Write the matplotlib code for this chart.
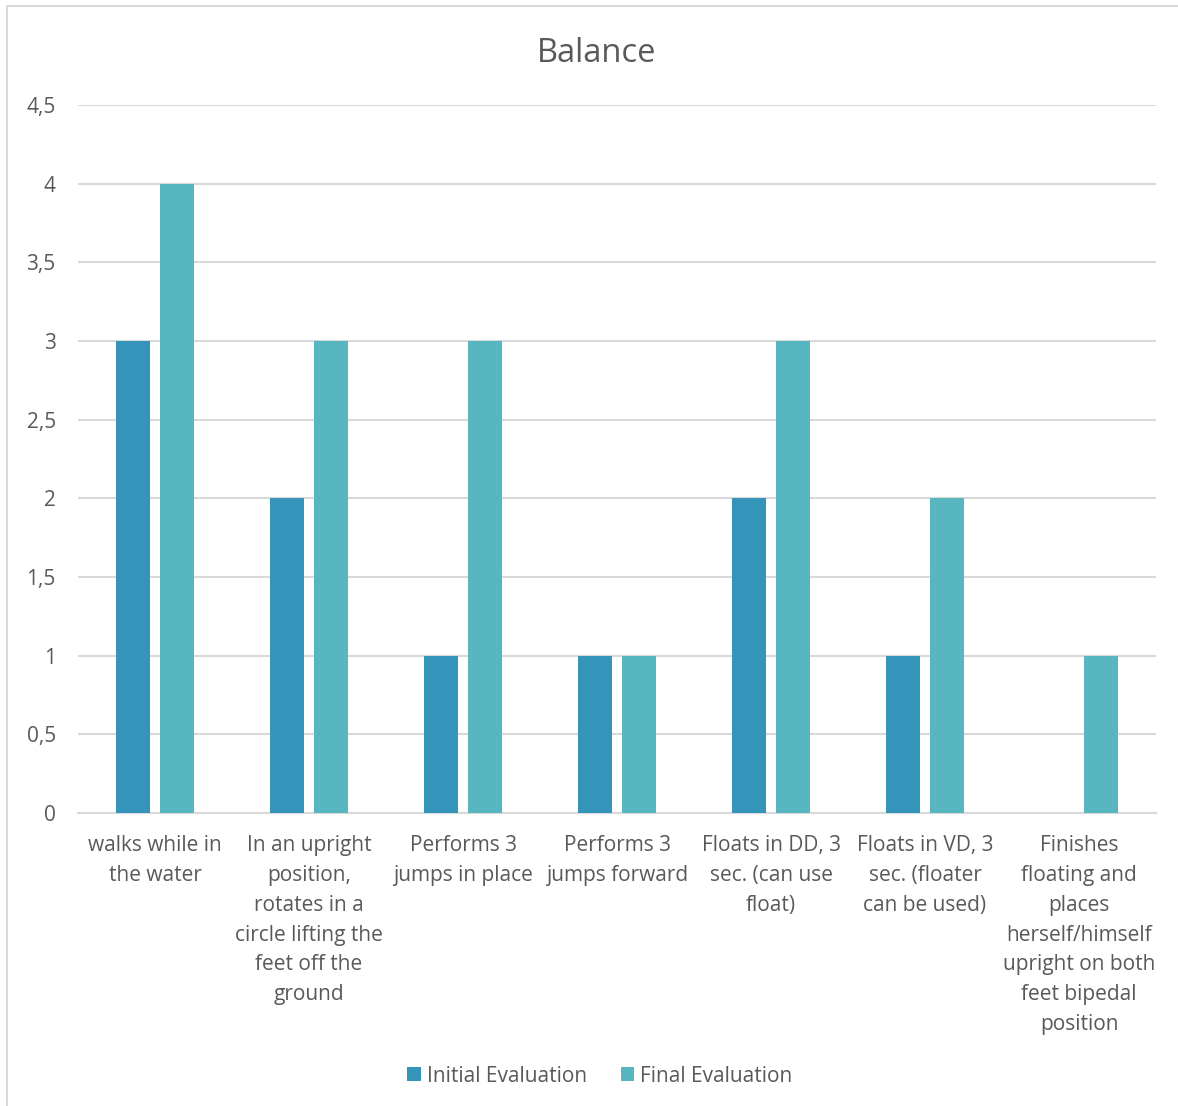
import matplotlib
matplotlib.use("Agg")
import matplotlib.pyplot as plt
import numpy as np
from matplotlib.patches import Rectangle

categories = [
    "walks while in\nthe water",
    "In an upright\nposition,\nrotates in a\ncircle lifting the\nfeet off the\nground",
    "Performs 3\njumps in place",
    "Performs 3\njumps forward",
    "Floats in DD, 3\nsec. (can use\nfloat)",
    "Floats in VD, 3\nsec. (floater\ncan be used)",
    "Finishes\nfloating and\nplaces\nherself/himself\nupright on both\nfeet bipedal\nposition",
]
initial_eval = [3, 2, 1, 1, 2, 1, 0]
final_eval = [4, 3, 3, 1, 3, 2, 1]
yticks = [0, 0.5, 1, 1.5, 2, 2.5, 3, 3.5, 4, 4.5]
ytick_labels = ["0", "0,5", "1", "1,5", "2", "2,5", "3", "3,5", "4", "4,5"]

text_color = "#595959"
grid_color = "#D9D9D9"
c_initial = "#3494BA"
c_final = "#58B6C0"

plt.rcParams["font.family"] = ["Open Sans", "DejaVu Sans"]

W, H = 1178, 1106
fig = plt.figure(figsize=(W / 100, H / 100), dpi=100)
ax = fig.add_axes([78 / W, 1 - 813 / H, (1156 - 78) / W, (813 - 105) / H])

x = np.arange(len(categories))
bw = 0.22
off = 0.143
ax.bar(x - off, initial_eval, width=bw, color=c_initial, label="Initial Evaluation", zorder=3)
ax.bar(x + off, final_eval, width=bw, color=c_final, label="Final Evaluation", zorder=3)

ax.set_xlim(-0.5, len(categories) - 0.5)
ax.set_ylim(0, 4.5)
ax.set_yticks(yticks)
ax.set_yticklabels(ytick_labels)
ax.set_xticks(x)
ax.set_xticklabels(categories, linespacing=1.55)
ax.tick_params(axis="both", length=0, colors=text_color, labelsize=15)
ax.tick_params(axis="x", pad=16)
ax.tick_params(axis="y", pad=16)
ax.grid(axis="y", color=grid_color, linewidth=1.5, zorder=0)
for s in ["top", "right", "left"]:
    ax.spines[s].set_visible(False)
ax.spines["bottom"].set_color(grid_color)
ax.spines["bottom"].set_linewidth(1.5)

fig.text(597 / W, 1 - 53 / H, "Balance", ha="center", va="center",
         fontsize=23.5, color=text_color)

leg = fig.legend(loc="center", bbox_to_anchor=(600 / W, 1 - 1076 / H), ncol=2,
                 frameon=False, fontsize=15, handlelength=0.65, handleheight=0.65,
                 handletextpad=0.3, columnspacing=1.6)
for t in leg.get_texts():
    t.set_color(text_color)

fig.patches.append(Rectangle((7 / W, -0.01), 1.05, 1 - 6 / H + 0.01,
                             transform=fig.transFigure, fill=False,
                             edgecolor="#D9D9D9", linewidth=1.5))

fig.savefig("out.png", dpi=100)
